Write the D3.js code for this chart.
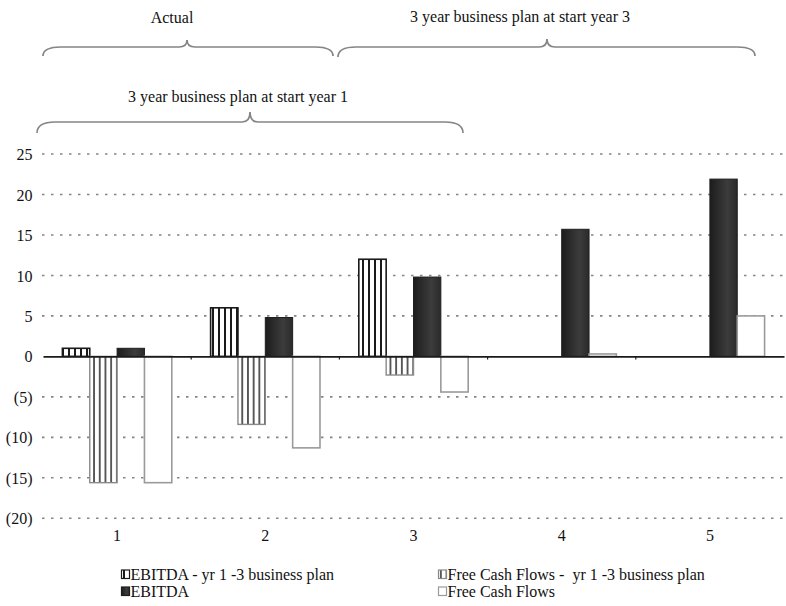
<!DOCTYPE html>
<html>
<head>
<meta charset="utf-8">
<script src="https://cdn.jsdelivr.net/npm/d3@7"></script>
<style>
  html, body { margin: 0; padding: 0; background: #fff; }
  svg { display: block; }
  text { font-family: "Liberation Serif", "Times New Roman", serif; fill: #111; }
</style>
</head>
<body>
<svg id="chart" width="786" height="606"></svg>
<script>
// Years on the category axis
const categories = ["1", "2", "3", "4", "5"];

// Series values (null = no bar for that year)
const ebitdaPlan = [1, 6, 12, null, null];
const fcfPlan = [-15.6, -8.4, -2.3, null, null];
const ebitdaActual = [1, 4.8, 9.8, 15.7, 21.9];
const fcfActual = [-15.6, -11.3, -4.4, 0.3, 5];

const seriesKeys = ["ebitdaPlan", "fcfPlan", "ebitda", "fcf"];
const seriesNames = [
  "EBITDA - yr 1 -3 business plan",
  "Free Cash Flows -  yr 1 -3 business plan",
  "EBITDA",
  "Free Cash Flows"
];
const seriesValues = [ebitdaPlan, fcfPlan, ebitdaActual, fcfActual];

// Y axis ticks and their labels (negatives in parentheses)
const yTicks = [25, 20, 15, 10, 5, 0, -5, -10, -15, -20];
const yTickLabels = ["25", "20", "15", "10", "5", "0", "(5)", "(10)", "(15)", "(20)"];

// Bracket annotations above the plot
const bracketLabels = ["Actual", "3 year business plan at start year 3", "3 year business plan at start year 1"];

const svg = d3.select("#chart");
const defs = svg.append("defs");

// Vertical stripe fills
function stripes(id, bg, fg, w, gap) {
  const p = defs.append("pattern").attr("id", id)
    .attr("patternUnits", "userSpaceOnUse")
    .attr("width", w + gap).attr("height", 10);
  p.append("rect").attr("width", w + gap).attr("height", 10).attr("fill", bg);
  p.append("rect").attr("x", gap / 2).attr("width", w).attr("height", 10).attr("fill", fg);
}
stripes("stripeBlack", "#fff", "#1a1a1a", 2, 4);
stripes("stripeGrey", "#fff", "#444", 1.7, 4);

const grad = defs.append("linearGradient").attr("id", "darkGrad")
  .attr("x1", "0").attr("x2", "1").attr("y1", "0").attr("y2", "0");
grad.append("stop").attr("offset", "0%").attr("stop-color", "#1c1c1c");
grad.append("stop").attr("offset", "65%").attr("stop-color", "#3c3c3c");
grad.append("stop").attr("offset", "100%").attr("stop-color", "#2a2a2a");

const styles = {
  ebitdaPlan: { fill: "url(#stripeBlack)", stroke: "#1a1a1a", sw: 1.6 },
  fcfPlan: { fill: "url(#stripeGrey)", stroke: "#8a8a8a", sw: 1.4 },
  ebitda: { fill: "url(#darkGrad)", stroke: "#1e1e1e", sw: 1 },
  fcf: { fill: "#ffffff", stroke: "#9a9a9a", sw: 1.6 }
};

// Scales
const x0 = d3.scaleBand().domain(categories).range([43, 784]).paddingInner(0).paddingOuter(0);
const x1 = d3.scaleBand().domain(seriesKeys).range([0, x0.bandwidth()]).paddingInner(0).paddingOuter(0.71);
const y = d3.scaleLinear().domain([-20, 25]).range([518.3, 154]);

// Dotted gridlines
svg.append("g").selectAll("line")
  .data(yTicks.filter(t => t !== 0))
  .join("line")
  .attr("x1", 42).attr("x2", 785)
  .attr("y1", d => y(d)).attr("y2", d => y(d))
  .attr("stroke", "#858585").attr("stroke-width", 1.6)
  .attr("stroke-dasharray", "2.5,6.5");

// Y axis labels
const yAxis = d3.axisLeft(y).tickValues(yTicks)
  .tickFormat((d, i) => yTickLabels[i]).tickSize(0).tickPadding(0);
svg.append("g").attr("transform", "translate(32.5,0)").call(yAxis)
  .call(g => g.select(".domain").remove())
  .call(g => g.selectAll("text")
    .attr("font-family", "'Liberation Serif', serif")
    .attr("font-size", 16).attr("fill", "#111").attr("dy", "0.35em"));

// Bars
const barData = [];
categories.forEach((c, i) => {
  seriesKeys.forEach((k, j) => {
    const v = seriesValues[j][i];
    if (v !== null) barData.push({ cat: c, key: k, value: v });
  });
});
svg.append("g").selectAll("rect")
  .data(barData)
  .join("rect")
  .attr("x", d => x0(d.cat) + x1(d.key))
  .attr("y", d => y(Math.max(0, d.value)))
  .attr("width", x1.bandwidth())
  .attr("height", d => Math.abs(y(d.value) - y(0)))
  .attr("fill", d => styles[d.key].fill)
  .attr("stroke", d => styles[d.key].stroke)
  .attr("stroke-width", d => styles[d.key].sw);

// Category axis along zero
const xAxis = d3.axisBottom(x0).tickSize(0).tickPadding(0);
const xg = svg.append("g").attr("transform", `translate(0,${y(0)})`).call(xAxis);
xg.select(".domain").attr("stroke", "#1a1a1a").attr("stroke-width", 1.6);
xg.selectAll("text").remove();
svg.append("g").selectAll("line")
  .data(categories.slice(1))
  .join("line")
  .attr("x1", d => x0(d)).attr("x2", d => x0(d))
  .attr("y1", y(0)).attr("y2", y(0) + 3)
  .attr("stroke", "#1a1a1a").attr("stroke-width", 1.2);

// Category labels below the plot
svg.append("g").selectAll("text")
  .data(categories)
  .join("text")
  .attr("x", d => x0(d) + x0.bandwidth() / 2)
  .attr("y", 541)
  .attr("text-anchor", "middle")
  .attr("font-size", 16)
  .text(d => d);

// Curly brackets
function bracePath(xa, xb, xt, yTip, yLine, yEndL, yEndR) {
  const r = 18, rt = 8;
  return `M${xa},${yEndL} Q${xa},${yLine} ${xa + r},${yLine} L${xt - rt},${yLine} ` +
    `Q${xt},${yLine} ${xt},${yTip} Q${xt},${yLine} ${xt + rt},${yLine} ` +
    `L${xb - r},${yLine} Q${xb},${yLine} ${xb},${yEndR}`;
}
const braces = [
  { label: bracketLabels[0], xa: 43, xb: 333, xt: 187, yTip: 40, yLine: 47, yEndL: 56, yEndR: 56, tx: 172, ty: 23 },
  { label: bracketLabels[1], xa: 338, xb: 755, xt: 547, yTip: 39, yLine: 47, yEndL: 57, yEndR: 56, tx: 520, ty: 22 },
  { label: bracketLabels[2], xa: 37, xb: 463, xt: 250, yTip: 112, yLine: 122, yEndL: 133, yEndR: 133, tx: 238, ty: 102 }
];
const bg = svg.append("g");
bg.selectAll("path").data(braces).join("path")
  .attr("d", d => bracePath(d.xa, d.xb, d.xt, d.yTip, d.yLine, d.yEndL, d.yEndR))
  .attr("fill", "none").attr("stroke", "#858585").attr("stroke-width", 1.7);
bg.selectAll("text").data(braces).join("text")
  .attr("x", d => d.tx).attr("y", d => d.ty)
  .attr("text-anchor", "middle").attr("font-size", 16)
  .text(d => d.label);

// Legend: two columns, two rows
const legendPos = [
  { x: 121, y: 580 }, { x: 438, y: 580 },
  { x: 121, y: 597 }, { x: 438, y: 597 }
];
const legend = svg.append("g").selectAll("g")
  .data(seriesKeys)
  .join("g")
  .attr("transform", (d, i) => `translate(${legendPos[i].x},${legendPos[i].y})`);
legend.append("rect")
  .attr("x", 0.5).attr("y", -10).attr("width", 8).attr("height", 8.5)
  .attr("fill", d => styles[d].fill)
  .attr("stroke", d => styles[d].stroke)
  .attr("stroke-width", 1.2);
legend.append("text")
  .attr("x", 9.5).attr("y", 0)
  .attr("font-size", 16)
  .style("white-space", "pre")
  .text((d, i) => seriesNames[i]);
</script>
</body>
</html>
